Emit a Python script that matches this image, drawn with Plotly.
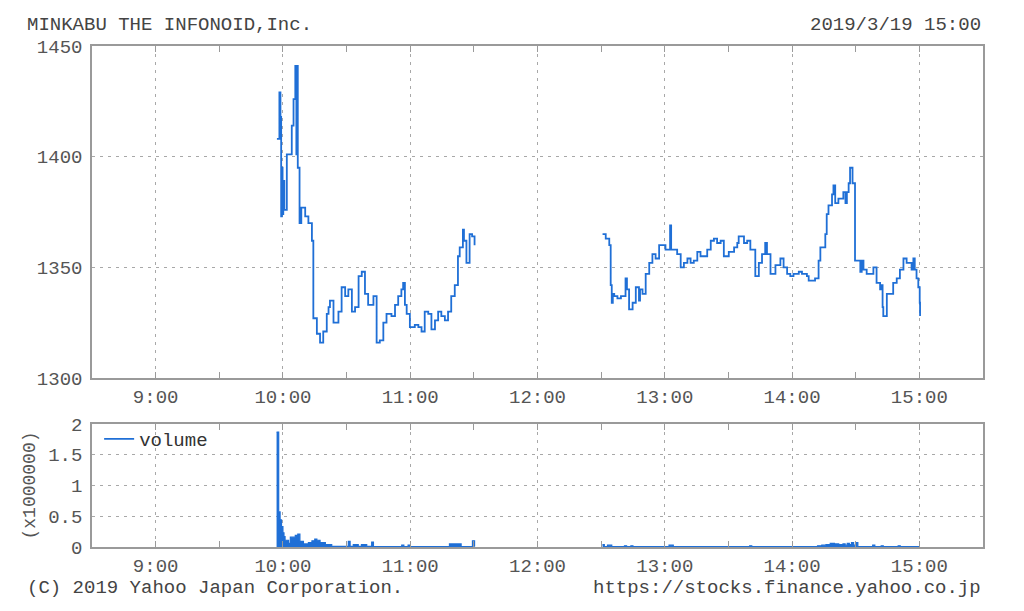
import plotly.graph_objects as go

DATE = "2019-03-19"

# ---- price (yen), morning session ----
am_time = ["09:57:10", "09:58:20", "09:58:50", "09:59:10", "09:59:30", "09:59:50", "10:00:10", "10:00:40",
           "10:01:50", "10:04:10", "10:05:00", "10:05:50", "10:06:20", "10:06:40", "10:07:00", "10:07:50",
           "10:08:40", "10:10:30", "10:12:00", "10:13:40", "10:14:20", "10:16:00", "10:17:30", "10:19:00",
           "10:20:40", "10:21:30", "10:22:10", "10:23:50", "10:26:10", "10:27:40", "10:29:20", "10:30:50",
           "10:32:30", "10:34:00", "10:35:40", "10:37:10", "10:38:40", "10:40:10", "10:42:40", "10:44:10",
           "10:45:40", "10:47:20", "10:48:50", "10:51:10", "10:52:50", "10:54:20", "10:55:50", "10:56:40",
           "10:57:30", "10:58:20", "10:59:50", "11:02:10", "11:03:50", "11:05:20", "11:06:50", "11:08:30",
           "11:10:00", "11:11:40", "11:13:10", "11:14:40", "11:16:20", "11:17:50", "11:19:20", "11:21:00",
           "11:22:30", "11:23:20", "11:24:50", "11:25:20", "11:26:30", "11:28:00", "11:29:10", "11:30:20"]
am_price = [1408, 1429, 1418, 1373, 1395, 1374, 1389, 1376,
            1401, 1414, 1426, 1441, 1401, 1441, 1395, 1370,
            1377, 1373, 1370, 1362, 1327, 1320, 1316, 1321,
            1329, 1332, 1335, 1325, 1330, 1341, 1337, 1340,
            1330, 1332, 1346, 1348, 1338, 1333, 1337, 1316,
            1317, 1325, 1329, 1328, 1333, 1337, 1340, 1343,
            1333, 1329, 1323, 1324, 1323, 1321, 1330, 1329,
            1322, 1326, 1330, 1328, 1326, 1330, 1337, 1342,
            1355, 1359, 1367, 1362, 1352, 1365, 1364, 1360]

# ---- price (yen), afternoon session ----
pm_time = ["12:30:40", "12:32:10", "12:33:50", "12:34:30", "12:35:00", "12:35:30", "12:36:10", "12:37:40",
           "12:39:20", "12:41:30", "12:42:10", "12:43:10", "12:44:50", "12:46:20", "12:47:50", "12:48:20",
           "12:49:30", "12:51:00", "12:52:40", "12:54:10", "12:55:40", "12:57:20", "12:58:50", "13:00:20",
           "13:02:30", "13:03:00", "13:04:00", "13:05:50", "13:07:30", "13:09:00", "13:10:40", "13:12:10",
           "13:13:40", "13:15:20", "13:16:50", "13:18:30", "13:20:00", "13:21:40", "13:23:10", "13:24:40",
           "13:26:20", "13:27:50", "13:30:10", "13:32:40", "13:34:10", "13:34:50", "13:37:20", "13:38:50",
           "13:40:20", "13:42:40", "13:44:20", "13:45:50", "13:47:20", "13:48:10", "13:49:50", "13:52:10",
           "13:54:30", "13:56:00", "13:57:40", "13:59:10", "14:00:40", "14:03:10", "14:04:40", "14:07:00",
           "14:07:50", "14:10:50", "14:12:30", "14:13:20", "14:15:40", "14:16:20", "14:17:10", "14:18:50",
           "14:19:30", "14:20:20", "14:21:50", "14:24:10", "14:25:10", "14:25:50", "14:26:40", "14:27:20",
           "14:28:30", "14:29:40", "14:31:20", "14:32:10", "14:32:50", "14:33:40", "14:35:10", "14:38:20",
           "14:39:50", "14:41:30", "14:42:10", "14:42:40", "14:43:00", "14:44:40", "14:47:40", "14:49:20",
           "14:50:50", "14:52:30", "14:54:00", "14:56:20", "14:57:10", "14:57:50", "14:58:40", "14:59:30",
           "15:00:10"]
pm_price = [1365, 1363, 1360, 1342, 1334, 1338, 1337, 1336,
            1337, 1345, 1340, 1331, 1334, 1341, 1335, 1340,
            1338, 1347, 1352, 1356, 1354, 1360, 1360, 1358,
            1369, 1358, 1358, 1356, 1350, 1352, 1354, 1352,
            1353, 1357, 1355, 1355, 1358, 1362, 1363, 1361,
            1362, 1355, 1357, 1359, 1361, 1364, 1361, 1362,
            1358, 1346, 1352, 1356, 1361, 1356, 1347, 1351,
            1354, 1350, 1347, 1346, 1347, 1348, 1347, 1346,
            1344, 1345, 1353, 1359, 1365, 1374, 1378, 1383,
            1387, 1379, 1381, 1384, 1379, 1384, 1388, 1395,
            1388, 1353, 1353, 1348, 1353, 1349, 1347, 1350,
            1343, 1340, 1342, 1332, 1328, 1338, 1343, 1345,
            1349, 1354, 1352, 1349, 1354, 1349, 1345, 1341,
            1334]
pm_close_time = "15:00:20"
pm_close = 1328

# ---- volume (shares) ----
vol_am_time = ["09:57:00", "09:58:00", "09:58:40", "09:59:20", "10:00:00", "10:00:30", "10:01:00", "10:02:40",
               "10:03:30", "10:05:50", "10:07:00", "10:08:00", "10:09:40", "10:12:00", "10:13:40", "10:15:00",
               "10:16:00", "10:17:30", "10:20:00", "10:23:00", "10:30:50", "10:31:40", "10:33:10", "10:35:30",
               "10:37:00", "10:39:30", "10:41:50", "10:42:40", "10:56:00", "10:57:00", "10:59:00", "11:00:00",
               "11:18:30", "11:24:00", "11:29:20", "11:30:20"]
vol_am = [1870000, 570000, 440000, 330000, 230000, 170000, 110000, 60000,
          160000, 190000, 210000, 90000, 50000, 70000, 100000, 130000,
          110000, 70000, 40000, 10000, 90000, 10000, 40000, 10000,
          40000, 10000, 80000, 8000, 30000, 8000, 30000, 8000,
          50000, 8000, 100000, 8000]
vol_pm_time = ["12:30:40", "12:31:30", "12:33:00", "12:35:00", "12:41:00", "12:42:00", "12:44:00", "12:45:00",
               "13:02:00", "13:04:00", "13:40:00", "13:41:00", "14:12:00", "14:14:00", "14:16:00", "14:18:00",
               "14:20:00", "14:22:00", "14:24:00", "14:25:00", "14:26:00", "14:27:00", "14:28:00", "14:29:00",
               "14:30:00", "14:31:00", "14:38:00", "14:39:00", "14:42:00", "14:43:00", "14:50:00", "14:51:00",
               "15:00:10"]
vol_pm = [40000, 8000, 30000, 8000, 20000, 8000, 20000, 8000,
          30000, 8000, 20000, 8000, 20000, 30000, 40000, 60000,
          50000, 40000, 50000, 30000, 60000, 40000, 70000, 30000,
          70000, 8000, 30000, 8000, 20000, 8000, 20000, 8000,
          8000]
VOL_UNIT = 1_000_000

price_ticks = [1300, 1350, 1400, 1450]
vol_ticks = [0, 0.5, 1, 1.5, 2]
vol_tick_text = ["0", "0.5", "1", "1.5", "2"]

BLUE = "#1f6fd6"
FRAME = "#9a9a9a"
GRID = "#a8a8a8"
TXT = "#555555"
FONT = "Liberation Mono"


def ts(t):
    return f"{DATE} {t}"


px_x = [ts(t) for t in am_time] + [ts("12:00:00")] + [ts(t) for t in pm_time] + [ts(pm_close_time)]
px_y = am_price + [None] + pm_price + [pm_close]

fig = go.Figure()
fig.add_trace(go.Scatter(x=px_x, y=px_y, mode="lines", line=dict(color=BLUE, width=1.8, shape="hv"),
                         connectgaps=False, showlegend=False, xaxis="x", yaxis="y"))
for vt, vv in ((vol_am_time, vol_am), (vol_pm_time, vol_pm)):
    fig.add_trace(go.Scatter(x=[ts(t) for t in vt], y=[v / VOL_UNIT for v in vv], mode="lines",
                             line=dict(color=BLUE, width=1.2, shape="hv"),
                             fill="tozeroy", fillcolor=BLUE, showlegend=False,
                             xaxis="x2", yaxis="y2"))
fig.add_trace(go.Scatter(x=[None], y=[None], mode="lines", name="volume",
                         line=dict(color=BLUE, width=1.6), xaxis="x2", yaxis="y2"))

xrange = [ts("08:30:00"), ts("15:30:00")]
# page body has an 8px margin, so the figure is laid out 8px in from the window edge
OFF = 8
W, H = 1008, 595
L, T = 92 - OFF, 46 - OFF
R = W - (983 - OFF)
B = H - (547 - OFF)
plot_h = H - T - B
plot_w = W - L - R
top_dom = [(547 - 378) / plot_h, 1.0]
bot_dom = [0.0, (547 - 424) / plot_h]

xcommon = dict(type="date", range=xrange, dtick=3600000, tick0=ts("09:00:00"), tickformat="%-H:%M",
               showgrid=True, gridcolor=GRID, griddash="3px,5px", gridwidth=1,
               ticks="inside", ticklen=6, tickcolor=FRAME, tickwidth=1.2,
               minor=dict(dtick=1800000, tick0=ts("08:30:00"), ticks="inside", ticklen=6,
                          tickcolor=FRAME, tickwidth=1.2, showgrid=False),
               showline=True, linecolor=FRAME, linewidth=1.5, mirror="ticks", zeroline=False,
               tickfont=dict(family=FONT, size=19, color=TXT), fixedrange=True)

fig.update_layout(
    width=W, height=H,
    margin=dict(l=L, r=R, t=T, b=B, autoexpand=False),
    paper_bgcolor="white", plot_bgcolor="white",
    font=dict(family=FONT, size=19, color=TXT),
    xaxis=dict(domain=[0, 1], anchor="y", **xcommon),
    yaxis=dict(domain=top_dom, anchor="x", range=[1300, 1450], tickvals=price_ticks,
               showgrid=True, gridcolor=GRID, griddash="3px,5px", gridwidth=1,
               ticks="", showline=True, linecolor=FRAME, linewidth=1.5, mirror=True, zeroline=False,
               tickfont=dict(family=FONT, size=19, color=TXT), ticklabelstandoff=4),
    xaxis2=dict(domain=[0, 1], anchor="y2", **xcommon),
    yaxis2=dict(domain=bot_dom, anchor="x2", range=[0, 2], tickvals=vol_ticks, ticktext=vol_tick_text,
                showgrid=True, gridcolor=GRID, griddash="3px,5px", gridwidth=1,
                ticks="", showline=True, linecolor=FRAME, linewidth=1.5, mirror=True, zeroline=False,
                tickfont=dict(family=FONT, size=19, color=TXT), ticklabelstandoff=4,
                title=dict(text="(x1000000)", font=dict(family=FONT, size=18, color=TXT), standoff=8)),
    legend=dict(x=0.008, y=bot_dom[1] + 0.008, xanchor="left", yanchor="top", bgcolor="rgba(0,0,0,0)",
                font=dict(family=FONT, size=19, color="#333333"), itemwidth=30, tracegroupgap=0),
    showlegend=True,
)

hdr_y = 1 + (46 - 24.5) / plot_h
ftr_y = -(588 - 547) / plot_h
left_x = -(92 - 25) / plot_w
fig.add_annotation(text="MINKABU THE INFONOID,Inc.", xref="paper", yref="paper", x=left_x,
                   y=hdr_y, xanchor="left", yanchor="middle", showarrow=False,
                   font=dict(family=FONT, size=19, color="#444444"))
fig.add_annotation(text="2019/3/19 15:00", xref="paper", yref="paper", x=1.0,
                   y=hdr_y, xanchor="right", yanchor="middle", showarrow=False,
                   font=dict(family=FONT, size=19, color="#444444"))
fig.add_annotation(text="(C) 2019 Yahoo Japan Corporation.", xref="paper", yref="paper",
                   x=left_x, y=ftr_y, xanchor="left", yanchor="middle",
                   showarrow=False, font=dict(family=FONT, size=19, color="#444444"))
fig.add_annotation(text="https://stocks.finance.yahoo.co.jp", xref="paper", yref="paper", x=1.0,
                   y=ftr_y, xanchor="right", yanchor="middle", showarrow=False,
                   font=dict(family=FONT, size=19, color="#444444"))

fig.write_html("out.html")
